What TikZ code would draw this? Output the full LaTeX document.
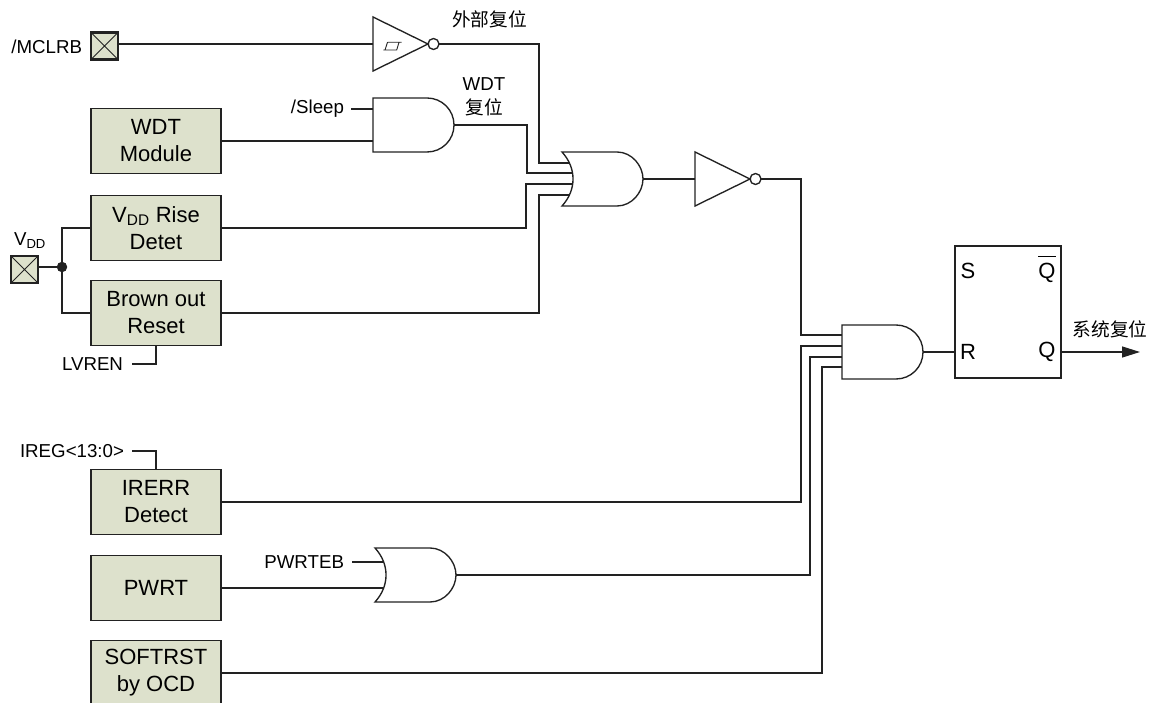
\documentclass[tikz,border=0pt]{standalone}
\usepackage{fontspec}
\setmainfont{Liberation Sans}
\newfontfamily\cjk{Noto Sans CJK SC}
\usetikzlibrary{arrows.meta}
\definecolor{boxgreen}{HTML}{DDE1CC}
\definecolor{wire}{HTML}{222222}
\tikzset{
  every path/.style={draw=wire,line width=1.35pt},
  blockbox/.style={draw,fill=boxgreen,minimum width=130pt,minimum height=65pt,inner sep=0pt,outer sep=0pt,align=center,font=\fontsize{22}{27}\selectfont},
  padbox/.style={draw,fill=boxgreen,line width=2.2pt,minimum size=27pt,inner sep=0pt,outer sep=0pt,
    path picture={\draw[line width=1pt] (path picture bounding box.north west) -- (path picture bounding box.south east)
      (path picture bounding box.north east) -- (path picture bounding box.south west);}},
  gatebox/.style={draw=none,minimum width=81pt,minimum height=54pt,inner sep=0pt,outer sep=0pt},
  bubble/.style={draw,circle,minimum size=11pt,inner sep=0pt,outer sep=0pt},
  lbl/.style={draw=none,inner sep=0pt,outer sep=0pt,font=\fontsize{18.7}{24}\selectfont,align=center},
  pinlbl/.style={draw=none,inner sep=0pt,outer sep=0pt,font=\fontsize{22}{27}\selectfont},
}
\newcommand{\AndGate}[3]{
  \node[gatebox] (#1) at (#2+40.5,#3+27) {};
  \draw[shift={(#2,#3)}] (0,0) -- (54,0) .. controls (69,0) and (81,12) .. (81,27)
    .. controls (81,42) and (69,54) .. (54,54) -- (0,54) -- cycle;
}
\newcommand{\OrGate}[3]{
  \node[gatebox] (#1) at (#2+40.5,#3+27) {};
  \draw[shift={(#2,#3)}] (0,0) -- (55,0) .. controls (70,0) and (81,14) .. (81,27)
    .. controls (81,40) and (70,54) .. (55,54) -- (0,54)
    .. controls (14.7,38) and (14.7,16) .. (0,0) -- cycle;
}
\newcommand{\NotGate}[3]{
  \node[gatebox,minimum width=55pt] (#1) at (#2+27.5,#3+27) {};
  \draw[shift={(#2,#3)}] (0,0) -- (55,27) -- (0,54) -- cycle;
  \node[bubble] (#1b) at (#2+60.5,#3+27) {};
}
\begin{document}
\begin{tikzpicture}[x=1pt,y=-1pt]
  \useasboundingbox[draw=none] (0,0) rectangle (1154,703);

  \node[padbox] (mclrbpad) at (104.5,46) {};
  \node[padbox] (vddpad) at (24.5,269.5) {};
  \node[blockbox] (wdtmod) at (156,141) {WDT\\Module};
  \node[blockbox] (vddrise) at (156,228) {V\textsubscript{DD} Rise\\Detet};
  \node[blockbox] (brown) at (156,313) {Brown out\\Reset};
  \node[blockbox] (irerr) at (156,502) {IRERR\\Detect};
  \node[blockbox] (pwrt) at (156,588) {PWRT};
  \node[blockbox] (softrst) at (156,673) {SOFTRST\\by OCD};

  \node[lbl,anchor=east] (mclrb) at (82,47) {/MCLRB};
  \node[lbl] (vddlbl) at (30,241) {V\textsubscript{DD}};
  \node[lbl,anchor=east] (sleep) at (344,109) {/Sleep};
  \node[lbl,anchor=east] (lvren) at (123,364) {LVREN};
  \node[lbl,anchor=east] (ireg) at (124,451) {IREG<13:0>};
  \node[lbl,anchor=east] (pwrteb) at (344,562) {PWRTEB};
  \node[lbl] (extrst) at (489.5,19) {\cjk 外部复位};
  \node[lbl] (wdtrst) at (484,97) {WDT\\\cjk 复位};
  \node[lbl] (sysrst) at (1110,329) {\cjk 系统复位};

  \NotGate{inva}{373}{17}
  \draw[line width=.9pt] (387.5,42.3) -- (385,50) (383.3,50) -- (396.7,50) -- (399,42.3) (387.5,42.3) -- (401.7,42.3);
  \AndGate{anda}{373}{98}
  \OrGate{ora}{562}{152}
  \NotGate{invb}{695}{152}
  \AndGate{andb}{842}{325}
  \OrGate{orb}{375}{548}

  \node[draw,minimum width=106pt,minimum height=132pt,inner sep=0pt,outer sep=0pt] (srff) at (1008,312) {};
  \node[pinlbl] (ffs) at (968,271) {S};
  \node[pinlbl] (ffnq) at (1047,269.5) {$\overline{\vphantom{\rule{0pt}{21pt}}\hbox{Q}}$};
  \node[pinlbl] (ffr) at (968,352) {R};
  \node[pinlbl] (ffq) at (1047,352) {Q};

  \node[draw,circle,fill=wire,minimum size=9pt,inner sep=0pt] (vddjoin) at (62,267) {};

  \coordinate (oraa) at (568.5,163);
  \coordinate (orab) at (572,173);
  \coordinate (orac) at (572,184);
  \coordinate (orad) at (568.5,195);
  \coordinate (andba) at (842,335);
  \coordinate (andbb) at (842,346);
  \coordinate (andbc) at (842,357);
  \coordinate (andbd) at (842,367);
  \coordinate (orba) at (384,562);
  \coordinate (orbb) at (384,588);
  \coordinate (rstout) at (1140,352);

  \draw (mclrbpad.east |- inva.west) -- (inva.west);
  \draw (invab.east) -- ++(100,0) |- (oraa);
  \draw (sleep.east) ++(7,0) -- (anda.west |- sleep.east);
  \draw (wdtmod.east) -- (anda.west |- wdtmod.east);
  \draw (anda.east) -- ++(73,0) |- (orab);
  \draw (vddrise.east) -- ++(305,0) |- (orac);
  \draw (brown.east) -- ++(318,0) |- (orad);
  \draw (vddjoin) -- (vddpad.east |- vddjoin);
  \draw (vddrise.west) -- (vddjoin |- vddrise.west) -- (vddjoin |- brown.west) -- (brown.west);
  \draw (lvren.east) ++(9,0) -| (brown.south);
  \draw (ireg.east) ++(8,0) -| (irerr.north);
  \draw (ora.east) -- (invb.west);
  \draw (invbb.east) -- ++(40,0) |- (andba);
  \draw (irerr.east) -- ++(580,0) |- (andbb);
  \draw (orb.east) -- ++(354,0) |- (andbc);
  \draw (softrst.east) -- ++(601,0) |- (andbd);
  \draw (pwrteb.east) ++(8,0) -- (orba);
  \draw (pwrt.east) -- (orbb);
  \draw (andb.east) -- (srff.west |- andb.east);
  \draw[-{Triangle[length=18pt,width=11pt]}] (srff.east |- rstout) -- (rstout);
\end{tikzpicture}
\end{document}
